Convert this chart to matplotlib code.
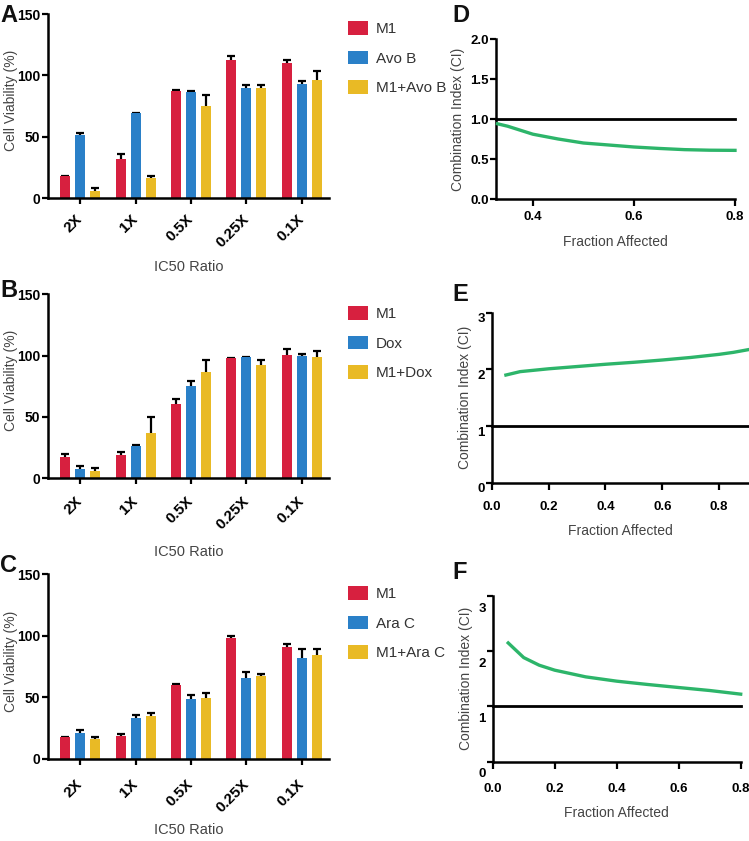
import matplotlib
matplotlib.use('Agg')
import matplotlib.pyplot as plt
import matplotlib.transforms as mtrans
from matplotlib.patches import Patch
import numpy as np

plt.rcParams['font.family'] = ['Liberation Sans', 'DejaVu Sans']

# ---------------- data ----------------
ratios = ['2X', '1X', '0.5X', '0.25X', '0.1X']

a_labels = ['M1', 'Avo B', 'M1+Avo B']
a_m1 = [17.7, 32.1, 87.4, 112.4, 109.8]
a_m1_err = [0.6, 4.0, 1.0, 3.0, 3.0]
a_drug = [51.4, 68.9, 86.6, 89.8, 93.2]
a_drug_err = [1.5, 0.6, 0.5, 2.0, 2.0]
a_combo = [6.0, 16.3, 74.9, 89.3, 96.2]
a_combo_err = [2.5, 1.5, 9.0, 3.0, 7.0]

b_labels = ['M1', 'Dox', 'M1+Dox']
b_m1 = [17.1, 18.8, 60.3, 97.8, 100.3]
b_m1_err = [2.7, 2.5, 4.5, 0.6, 5.0]
b_drug = [7.6, 26.1, 75.3, 98.6, 100.0]
b_drug_err = [2.5, 1.0, 4.0, 0.6, 1.0]
b_combo = [6.0, 37.0, 86.7, 92.7, 98.9]
b_combo_err = [2.5, 13.3, 9.5, 3.5, 4.9]

c_labels = ['M1', 'Ara C', 'M1+Ara C']
c_m1 = [17.6, 18.4, 59.8, 98.3, 90.7]
c_m1_err = [0.4, 2.0, 1.5, 1.5, 2.5]
c_drug = [20.8, 33.3, 49.0, 65.5, 82.0]
c_drug_err = [2.7, 2.5, 3.0, 5.5, 7.6]
c_combo = [16.5, 35.2, 49.8, 67.7, 84.7]
c_combo_err = [1.0, 2.5, 4.0, 1.0, 4.9]

d_fa = [0.33, 0.35, 0.4, 0.45, 0.5, 0.55, 0.6, 0.65, 0.7, 0.75, 0.8]
d_ci = [0.94, 0.91, 0.81, 0.75, 0.70, 0.675, 0.65, 0.632, 0.617, 0.61, 0.608]

e_fa = [0.05, 0.1, 0.2, 0.3, 0.4, 0.5, 0.6, 0.7, 0.8, 0.85, 0.905]
e_ci = [1.90, 1.96, 2.01, 2.05, 2.09, 2.125, 2.165, 2.21, 2.265, 2.30, 2.35]

f_fa = [0.05, 0.1, 0.15, 0.2, 0.3, 0.4, 0.5, 0.6, 0.7, 0.8]
f_ci = [2.15, 1.885, 1.747, 1.657, 1.536, 1.458, 1.398, 1.343, 1.289, 1.223]

# ---------------- style ----------------
RED = '#D7203F'
BLUE = '#2A80C8'
YELLOW = '#E9BA25'
GREEN = '#2DB56A'
LABEL_COL = '#444444'

fig = plt.figure(figsize=(7.49, 8.41), dpi=100)
PT = 72.0 / 100.0  # points per pixel


def W(px):
    return px / 749.0


def H(px):
    return px / 841.0


def rect(left, top, right, bottom):
    return [W(left), 1 - H(bottom), W(right - left), H(bottom - top)]


def style_axes(ax):
    for s in ['top', 'right']:
        ax.spines[s].set_visible(False)
    for s in ['left', 'bottom']:
        ax.spines[s].set_linewidth(1.8)
        ax.spines[s].set_color('black')


def bar_panel(rc, m1, m1e, drug, drge, combo, cme, labels, leg_top,
              tick_pad_px, xlabpad_px):
    ax = fig.add_axes(rc)
    style_axes(ax)
    x = np.arange(len(ratios))
    w = 0.18
    off = 0.27
    series = [(m1, m1e, RED), (drug, drge, BLUE), (combo, cme, YELLOW)]
    for i, (v, e, c) in enumerate(series):
        xs = x + (i - 1) * off
        ax.errorbar(xs, v, yerr=e, fmt='none', ecolor='black', elinewidth=1.6,
                    capsize=3.0, capthick=1.6, zorder=1)
        ax.bar(xs, v, width=w, color=c, edgecolor='none', zorder=2,
               label=labels[i])
    ax.set_xlim(-0.58, 4.49)
    ax.set_ylim(0, 150)
    ax.set_yticks([0, 50, 100, 150])
    ax.set_xticks(x)
    ax.set_xticklabels(ratios, rotation=45, ha='right', va='center',
                       rotation_mode='anchor', fontweight='bold', fontsize=11)
    for lab in ax.get_yticklabels():
        lab.set_fontweight('bold')
        lab.set_fontsize(10)
    ax.tick_params(axis='y', length=4, width=1.6, pad=1.5)
    ax.tick_params(axis='x', length=6 * PT, width=1.6, pad=tick_pad_px * PT)
    ax.set_ylabel('Cell Viability (%)', fontsize=10, color=LABEL_COL)
    ax.yaxis.set_label_coords(-0.108, 0.53)
    ax.set_xlabel('IC50 Ratio', fontsize=10.5, color=LABEL_COL,
                  labelpad=xlabpad_px * PT)
    handles = [Patch(facecolor=c, edgecolor='none') for (_, _, c) in series]
    fig.legend(handles, labels, loc='upper left',
               bbox_to_anchor=(W(342), 1 - H(leg_top)), frameon=False,
               fontsize=11, handlelength=1.3, handleheight=1.0,
               handletextpad=0.5, labelspacing=0.95, borderaxespad=0,
               labelcolor='#333333')
    return ax


def ci_panel(rc, fa, ci, xlim, ylim, yticks, yticklabels, xticks, lab_dy, xpad):
    ax = fig.add_axes(rc)
    style_axes(ax)
    ax.plot([xlim[0], xlim[1]], [1, 1], color='black', lw=2.0, zorder=2,
            clip_on=False)
    ax.plot(fa, ci, color=GREEN, lw=2.4, zorder=3, clip_on=False)
    ax.set_xlim(*xlim)
    ax.set_ylim(*ylim)
    ax.set_yticks(yticks)
    ax.set_yticklabels(yticklabels, fontweight='bold', fontsize=9.5)
    ax.set_xticks(xticks)
    ax.set_xticklabels(['%.1f' % t for t in xticks], fontweight='bold',
                       fontsize=9.5)
    ax.tick_params(axis='y', length=4, width=1.6, pad=1)
    ax.tick_params(axis='x', length=5, width=1.6, pad=xpad)
    if lab_dy:
        tr = mtrans.ScaledTranslation(0, -lab_dy / 100.0, fig.dpi_scale_trans)
        for lab in ax.get_yticklabels():
            lab.set_transform(lab.get_transform() + tr)
    ax.set_ylabel('Combination Index (CI)', fontsize=10, color=LABEL_COL,
                  labelpad=4)
    ax.set_xlabel('Fraction Affected', fontsize=10, color=LABEL_COL, labelpad=8)
    return ax


bar_panel(rect(48, 14, 329, 198), a_m1, a_m1_err, a_drug, a_drug_err,
          a_combo, a_combo_err, a_labels, 15, 13, 10)
bar_panel(rect(48, 294.3, 329, 478.3), b_m1, b_m1_err, b_drug, b_drug_err,
          b_combo, b_combo_err, b_labels, 300, 15, 13)
bar_panel(rect(48, 574.3, 329, 759), c_m1, c_m1_err, c_drug, c_drug_err,
          c_combo, c_combo_err, c_labels, 580, 17, 8)

ci_panel(rect(496, 39, 735, 199), d_fa, d_ci, (0.327, 0.8), (0, 2.0),
         [0, 0.5, 1.0, 1.5, 2.0], ['0.0', '0.5', '1.0', '1.5', '2.0'],
         [0.4, 0.6, 0.8], 0, 4)
ci_panel(rect(491.7, 312.7, 749, 482.7), e_fa, e_ci, (0, 0.905), (0, 3),
         [0, 1, 2, 3], ['0', '1', '2', '3'],
         [0.0, 0.2, 0.4, 0.6, 0.8], 5, 8)
ci_panel(rect(492.7, 596, 740.7, 761.7), f_fa, f_ci, (0, 0.8), (0, 3),
         [0, 1, 2, 3], ['0', '1', '2', '3'],
         [0.0, 0.2, 0.4, 0.6, 0.8], 11, 10)

# panel letters
for letter, px, py in [('A', 0, 4), ('B', 0, 279), ('C', 0, 554),
                       ('D', 452, 4), ('E', 452, 283), ('F', 452, 561)]:
    fig.text(W(px), 1 - H(py), letter, fontsize=17, fontweight='bold',
             ha='left', va='top', color='#111111')

fig.savefig('out.png', dpi=100)
